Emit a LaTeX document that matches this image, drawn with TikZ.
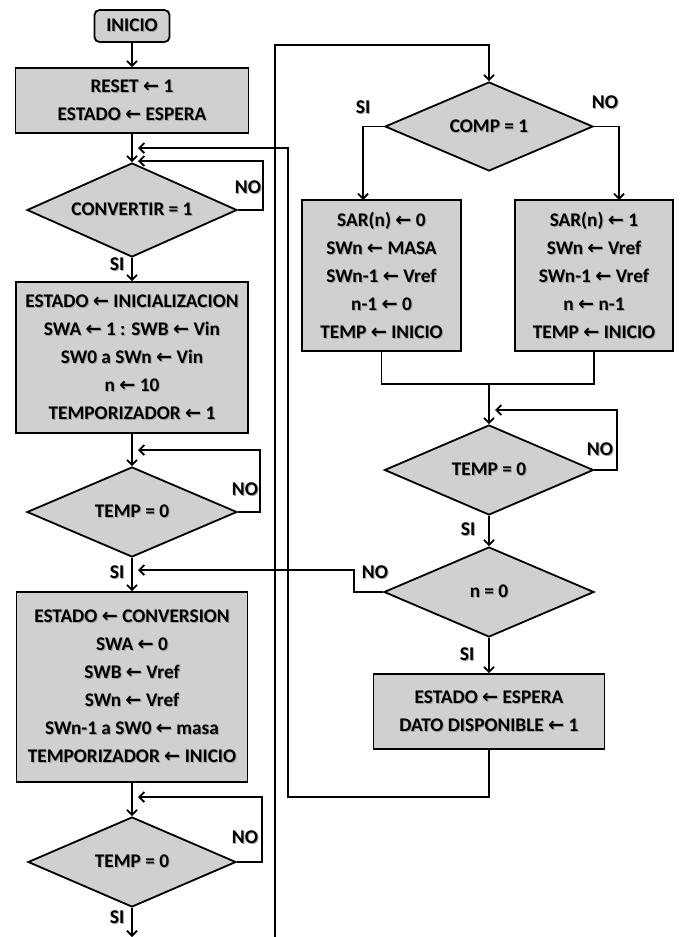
\documentclass[tikz,border=0pt]{standalone}
\usepackage{fontspec}
\setmainfont{Carlito}
\newfontfamily\arrowfont{DejaVu Sans}
\usetikzlibrary{shapes.geometric,arrows.meta}
\definecolor{boxfill}{RGB}{208,208,208}
\definecolor{shadowgray}{RGB}{160,160,160}
% text with a soft drop shadow
\newcommand\tx[1]{\leavevmode\rlap{\kern1pt\raisebox{-1pt}{\textcolor{shadowgray}{#1}}}#1}
% assignment arrow
\newcommand\la{\ {\arrowfont\char"2190}\ }
\begin{document}
\begin{tikzpicture}[x=1pt,y=-1pt,
  txt/.style={font=\bfseries\fontsize{19.3}{28}\selectfont},
  proc/.style={draw, line width=1.8pt, fill=boxfill, align=center, inner sep=0pt, txt},
  startbox/.style={proc, rounded corners=5pt},
  dec/.style={diamond, draw, line width=1.8pt, fill=boxfill, inner sep=0pt, aspect=2, txt},
  lbl/.style={font=\bfseries\fontsize{19.5}{20}\selectfont, inner sep=0pt},
  wire/.style={line width=1.8pt},
  flow/.style={wire, -{Straight Barb[length=5pt,width=10pt]}}]
\useasboundingbox (0,0) rectangle (683,937);

% ---- left column ----
\node[startbox, minimum width=75pt, minimum height=32pt] (ini) at (132,26) {\tx{INICIO}};
\node[proc, minimum width=233pt, minimum height=65pt] (reset) at (132,100.5)
  {\tx{RESET\la 1}\\\tx{ESTADO\la ESPERA}};
\node[dec, minimum width=210pt, minimum height=94pt] (conv) at (132,210) {\tx{CONVERTIR = 1}};
\node[proc, minimum width=232pt, minimum height=151pt] (init) at (132,357.5)
  {\tx{ESTADO\la INICIALIZACION}\\\tx{SWA\la 1 : SWB\la Vin}\\\tx{SW0 a SWn\la Vin}\\\tx{n\la 10}\\\tx{TEMPORIZADOR\la 1}};
\node[dec, minimum width=210pt, minimum height=90pt] (tA) at (132,512) {\tx{TEMP = 0}};
\node[proc, minimum width=231pt, minimum height=190pt] (cvs) at (132,687)
  {\tx{ESTADO\la CONVERSION}\\\tx{SWA\la 0}\\\tx{SWB\la Vref}\\\tx{SWn\la Vref}\\\tx{SWn-1 a SW0\la masa}\\\tx{TEMPORIZADOR\la INICIO}};
\node[dec, minimum width=208pt, minimum height=90pt] (tB) at (132,862) {\tx{TEMP = 0}};

% ---- right column ----
\node[dec, minimum width=208pt, minimum height=89pt] (comp) at (489,126.5) {\tx{COMP = 1}};
\node[proc, minimum width=159pt, minimum height=151pt] (sarA) at (381.5,275.5)
  {\tx{SAR(n)\la 0}\\\tx{SWn\la MASA}\\\tx{SWn-1\la Vref}\\\tx{n-1\la 0}\\\tx{TEMP\la INICIO}};
\node[proc, minimum width=158pt, minimum height=151pt] (sarB) at (594,275.5)
  {\tx{SAR(n)\la 1}\\\tx{SWn\la Vref}\\\tx{SWn-1\la Vref}\\\tx{n\la n-1}\\\tx{TEMP\la INICIO}};
\node[dec, minimum width=209pt, minimum height=90pt] (tC) at (489,470) {\tx{TEMP = 0}};
\node[dec, minimum width=210pt, minimum height=90pt] (nz) at (489,592) {\tx{n = 0}};
\node[proc, minimum width=231pt, minimum height=75pt] (fin) at (489,711.5)
  {\tx{ESTADO\la ESPERA}\\\tx{DATO DISPONIBLE\la 1}};

% ---- routing points ----
\coordinate (bottomL) at (132,937);
\coordinate (bottomR) at (275,937);
\coordinate (topR) at (275,45);
\coordinate (retOuter) at (138,148);
\coordinate (outerB) at (288,797);
\coordinate (loopA) at (263,161);
\coordinate (retA) at (138,161);
\coordinate (loopB) at (260,450);
\coordinate (retB) at (138,450);
\coordinate (loopC) at (262,797);
\coordinate (retC) at (138,797);
\coordinate (loopN) at (354,570);
\coordinate (retN) at (138,570);
\coordinate (sarAin) at (363,200);
\coordinate (sarBin) at (619,200);
\coordinate (merge) at (489,384);
\coordinate (loopT) at (617,410);
\coordinate (retT) at (495,410);

% ---- left column flow ----
\draw[flow] (ini) -- (reset);
\draw[flow] (reset) -- (conv);
\draw[flow] (conv) -- (init);
\draw[flow] (init) -- (tA);
\draw[flow] (tA) -- (cvs);
\draw[flow] (cvs) -- (tB);
\draw[flow] (tB.south) -- (bottomL);
\draw[flow] (conv.east) -| (loopA) -- (retA);
\draw[flow] (tA.east) -| (loopB) -- (retB);
\draw[flow] (tB.east) -| (loopC) -- (retC);

% ---- right column flow ----
\draw[flow] (bottomR) -- (topR) -| (comp.north);
\draw[flow] (comp.west) -| (sarAin);
\draw[flow] (comp.east) -| (sarBin);
\draw[wire] (sarA.south) |- (merge) -| (sarB.south);
\draw[flow] (merge) -- (tC);
\draw[flow] (tC.east) -| (loopT) -- (retT);
\draw[flow] (tC) -- (nz);
\draw[flow] (nz) -- (fin);
\draw[flow] (nz.west) -| (loopN) -- (retN);
\draw[flow] (fin.south) |- (outerB) |- (retOuter);

% ---- branch labels ----
\node[lbl] (noConv) at (248,188) {\tx{NO}};
\node[lbl] (siConv) at (117,265) {\tx{SI}};
\node[lbl] (noA) at (245,490) {\tx{NO}};
\node[lbl] (siA) at (117,573) {\tx{SI}};
\node[lbl] (noB) at (245,838) {\tx{NO}};
\node[lbl] (siB) at (117,918) {\tx{SI}};
\node[lbl] (siComp) at (363,108) {\tx{SI}};
\node[lbl] (noComp) at (605,103) {\tx{NO}};
\node[lbl] (noT) at (600,450) {\tx{NO}};
\node[lbl] (siT) at (468,530) {\tx{SI}};
\node[lbl] (noN) at (375,573) {\tx{NO}};
\node[lbl] (siN) at (467,655) {\tx{SI}};
\end{tikzpicture}
\end{document}
